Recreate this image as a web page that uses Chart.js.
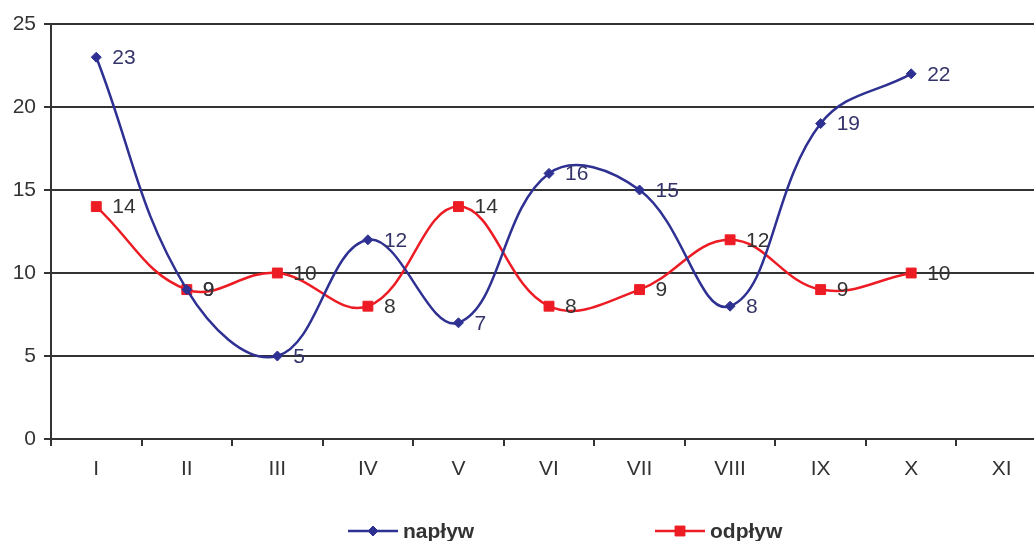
<!DOCTYPE html>
<html>
<head>
<meta charset="utf-8">
<script src="https://cdn.jsdelivr.net/npm/chart.js@4.4.0/dist/chart.umd.min.js"></script>
<style>
  html, body { margin: 0; padding: 0; overflow: hidden; background: #fff; }
  #wrap { width: 1060px; height: 560px; }
</style>
</head>
<body>
<div id="wrap"><canvas id="lineChart"></canvas></div>
<script>
// Months (roman numerals) and values
const months = ['I', 'II', 'III', 'IV', 'V', 'VI', 'VII', 'VIII', 'IX', 'X', 'XI'];
const inflow = [23, 9, 5, 12, 7, 16, 15, 8, 19, 22, null];   // napływ
const outflow = [14, 9, 10, 8, 14, 8, 9, 12, 9, 10, null];   // odpływ
const yTicks = [0, 5, 10, 15, 20, 25];

const FONT = '"Liberation Sans", Arial, sans-serif';
const BLUE = '#2e3192';
const RED = '#ed1c24';
const GRID = '#333333';

// Value labels to the right of every point
const valueLabels = {
    id: 'valueLabels',
    afterDatasetsDraw(chart) {
        const ctx = chart.ctx;
        ctx.save();
        ctx.font = '21px ' + FONT;
        ctx.textBaseline = 'middle';
        ctx.textAlign = 'left';
        chart.data.datasets.forEach((ds, i) => {
            const meta = chart.getDatasetMeta(i);
            ctx.fillStyle = ds.labelColor;
            meta.data.forEach((pt, j) => {
                if (ds.data[j] == null) return;
                ctx.fillText(String(ds.data[j]), pt.x + 16, pt.y + 1);
            });
        });
        ctx.restore();
    }
};

// Legend at the bottom: line with marker in the middle, bold label
const bottomLegend = {
    id: 'bottomLegend',
    afterDraw(chart) {
        const ctx = chart.ctx;
        const starts = [348, 655];
        const y = 531;
        ctx.save();
        chart.data.datasets.forEach((ds, i) => {
            const x0 = starts[i];
            ctx.strokeStyle = ds.borderColor;
            ctx.lineWidth = 2.5;
            ctx.beginPath();
            ctx.moveTo(x0, y);
            ctx.lineTo(x0 + 50, y);
            ctx.stroke();
            ctx.fillStyle = ds.borderColor;
            ctx.lineWidth = 1;
            Chart.helpers.drawPoint(ctx, {
                pointStyle: ds.pointStyle,
                radius: ds.pointRadius,
                borderWidth: 1
            }, x0 + 25, y);
            ctx.fillStyle = '#333333';
            ctx.font = 'bold 21px ' + FONT;
            ctx.textBaseline = 'middle';
            ctx.fillText(ds.label, x0 + 55, y + 1);
        });
        ctx.restore();
    }
};

const ctx = document.getElementById('lineChart').getContext('2d');
const lineChart = new Chart(ctx, {
    type: 'line',
    data: {
        labels: months,
        datasets: [{
            label: 'napływ',
            data: inflow,
            borderColor: BLUE,
            backgroundColor: BLUE,
            labelColor: '#34346a',
            borderWidth: 2.5,
            pointStyle: 'rectRot',
            pointRadius: 5,
            pointHoverRadius: 5,
            pointBorderWidth: 1,
            tension: 0.4
        }, {
            label: 'odpływ',
            data: outflow,
            borderColor: RED,
            backgroundColor: RED,
            labelColor: '#333333',
            borderWidth: 2.5,
            pointStyle: 'rect',
            pointRadius: 7,
            pointHoverRadius: 7,
            pointBorderWidth: 1,
            tension: 0.4
        }]
    },
    options: {
        responsive: true,
        maintainAspectRatio: false,
        animation: false,
        events: [],
        layout: {
            padding: { top: 24, right: 13, left: 0, bottom: 0 }
        },
        plugins: {
            legend: { display: false },
            tooltip: { enabled: false }
        },
        scales: {
            x: {
                offset: true,
                grid: {
                    offset: true,
                    drawOnChartArea: false,
                    drawTicks: true,
                    tickLength: 7,
                    color: GRID,
                    lineWidth: 2
                },
                border: { display: true, color: GRID, width: 2 },
                ticks: {
                    color: '#333333',
                    font: { family: FONT, size: 21 },
                    padding: 11
                },
                afterFit: (scale) => { scale.height = 121; }
            },
            y: {
                min: 0,
                max: 25,
                afterBuildTicks: (scale) => {
                    scale.ticks = yTicks.map(v => ({ value: v }));
                },
                grid: {
                    color: GRID,
                    lineWidth: 2,
                    drawTicks: true,
                    tickLength: 7
                },
                border: { display: true, color: GRID, width: 2 },
                ticks: {
                    color: '#333333',
                    font: { family: FONT, size: 21 },
                    padding: 8
                },
                afterFit: (scale) => { scale.width = 51; }
            }
        }
    },
    plugins: [valueLabels, bottomLegend]
});
</script>
</body>
</html>
